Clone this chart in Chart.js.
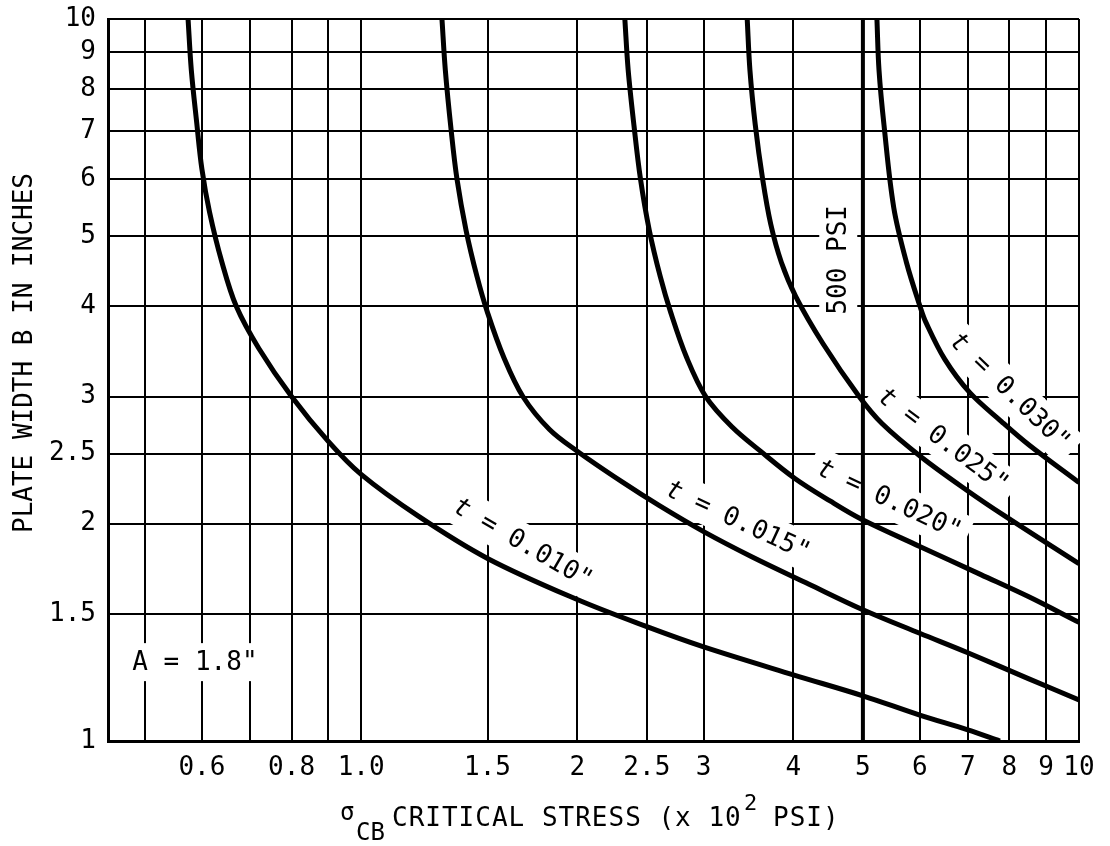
<!DOCTYPE html>
<html lang="en">
<head>
<meta charset="UTF-8">
<title>Plate width vs critical stress</title>
<script src="https://cdn.jsdelivr.net/npm/chart.js"></script>
<style>
  html, body { margin: 0; padding: 0; background: #fff; }
  .chart-box { width: 1110px; height: 846px; }
</style>
</head>
<body>
<div class="chart-box"><canvas id="chart" width="1110" height="846"></canvas></div>
<script>
// axis ticks
const xTicks = [0.5, 0.6, 0.7, 0.8, 0.9, 1.0, 1.5, 2, 2.5, 3, 4, 5, 6, 7, 8, 9, 10];
const xLabels = ['', '0.6', '', '0.8', '', '1.0', '1.5', '2', '2.5', '3', '4', '5', '6', '7', '8', '9', '10'];
const yTicks = [1, 1.5, 2, 2.5, 3, 4, 5, 6, 7, 8, 9, 10];
const yLabels = ['1', '1.5', '2', '2.5', '3', '4', '5', '6', '7', '8', '9', '10'];

// curves: critical stress (x 10^2 psi) vs plate width B (in)
const thickness = ['0.010', '0.015', '0.020', '0.025', '0.030'];
const stress010 = [0.574, 0.58, 0.59, 0.60, 0.615, 0.64, 0.67, 0.72, 0.80, 0.90, 1.0, 1.2, 1.5, 2.0, 2.5, 3.0, 4.0, 5.0, 6.0, 7.0, 7.76];
const width010  = [10, 8.5, 7.2, 6.2, 5.4, 4.6, 4.0, 3.5, 3.0, 2.6, 2.34, 2.05, 1.79, 1.57, 1.44, 1.35, 1.235, 1.155, 1.086, 1.036, 1.0];
const stress015 = [1.296, 1.31, 1.335, 1.36, 1.40, 1.45, 1.50, 1.58, 1.68, 1.83, 2.0, 2.31, 2.6, 3.0, 3.5, 4.2, 5.0, 6.0, 7.0, 8.5, 10];
const width015  = [10, 8.5, 7.0, 6.0, 5.1, 4.4, 3.92, 3.4, 3.0, 2.7, 2.52, 2.285, 2.12, 1.95, 1.80, 1.65, 1.52, 1.41, 1.325, 1.22, 1.14];
const stress020 = [2.33, 2.355, 2.40, 2.45, 2.52, 2.61, 2.70, 2.84, 3.02, 3.29, 3.6, 4.02, 4.5, 4.97, 6.0, 7.3, 8.5, 10];
const width020  = [10, 8.5, 7.1, 6.0, 5.1, 4.4, 3.92, 3.4, 3.0, 2.72, 2.52, 2.31, 2.15, 2.03, 1.86, 1.70, 1.585, 1.46];
const stress025 = [3.45, 3.48, 3.54, 3.625, 3.72, 3.85, 4.03, 4.40, 4.94, 5.32, 6.04, 7.0, 7.88, 10];
const width025  = [10, 8.5, 7.14, 6.0, 5.2, 4.6, 4.13, 3.55, 3.00, 2.75, 2.47, 2.22, 2.05, 1.76];
const stress030 = [5.23, 5.265, 5.35, 5.52, 5.75, 6.01, 6.12, 6.5, 7.04, 7.8, 8.52, 10];
const width030  = [10, 8.5, 7.13, 5.48, 4.6, 3.99, 3.80, 3.38, 3.04, 2.77, 2.57, 2.28];

// 500 psi limit line
const limitStress = [5, 5];
const limitWidth = [1, 10];

const FONT = '"DejaVu Sans Mono", "Liberation Mono", monospace';

function toPoints(xs, ys) {
  return xs.map((v, i) => ({ x: v, y: ys[i] }));
}

const curveSets = [
  [stress010, width010], [stress015, width015], [stress020, width020],
  [stress025, width025], [stress030, width030]
];

const datasets = curveSets.map(([xs, ys], i) => ({
  label: 't = ' + thickness[i] + '"',
  data: toPoints(xs, ys),
  borderColor: '#000',
  borderWidth: 5,
  pointRadius: 0,
  tension: 0.35,
  fill: false
}));
datasets.push({
  label: '500 PSI',
  data: toPoints(limitStress, limitWidth),
  borderColor: '#000',
  borderWidth: 4,
  pointRadius: 0,
  fill: false
});

// text placed on the plot (anchor in data units)
const notes = [
  { x: 1.68, y: 1.88, angle: 30, parts: [{ t: 't', it: true }, { t: ' = 0.010"' }] },
  { x: 3.35, y: 2.02, angle: 25, parts: [{ t: 't', it: true }, { t: ' = 0.015"' }] },
  { x: 5.44, y: 2.16, angle: 25, parts: [{ t: 't', it: true }, { t: ' = 0.020"' }] },
  { x: 6.47, y: 2.61, angle: 37, parts: [{ t: 't', it: true }, { t: ' = 0.025"' }] },
  { x: 8.01, y: 3.05, angle: 44, parts: [{ t: 't', it: true }, { t: ' = 0.030"' }] },
  { x: 4.62, y: 4.64, angle: -90, parts: [{ t: '500 PSI' }] },
  { x: 0.48, y: 1.286, angle: 0, align: 'left', parts: [{ t: 'A = 1.8"' }] }
];

function drawNote(ctx, cx, cy, note) {
  const size = 26;
  ctx.save();
  ctx.translate(cx, cy);
  ctx.rotate(note.angle * Math.PI / 180);
  let total = 0;
  const widths = note.parts.map(p => {
    ctx.font = (p.it ? 'italic ' : '') + size + 'px ' + FONT;
    const w = ctx.measureText(p.t).width;
    total += w;
    return w;
  });
  const x0 = note.align === 'left' ? 0 : -total / 2;
  ctx.fillStyle = '#fff';
  ctx.fillRect(x0 - 8, -19, total + 16, 38);
  ctx.fillStyle = '#000';
  ctx.textBaseline = 'middle';
  ctx.textAlign = 'left';
  let x = x0;
  note.parts.forEach((p, i) => {
    ctx.font = (p.it ? 'italic ' : '') + size + 'px ' + FONT;
    ctx.fillText(p.t, x, 1);
    x += widths[i];
  });
  ctx.restore();
}

const textPlugin = {
  id: 'plateText',
  beforeDatasetsDraw(chart) {
    const { ctx, scales } = chart;
    notes.forEach(n => {
      drawNote(ctx, scales.x.getPixelForValue(n.x), scales.y.getPixelForValue(n.y), n);
    });
  },
  afterDraw(chart) {
    const { ctx, chartArea } = chart;
    ctx.save();
    ctx.fillStyle = '#000';
    ctx.textAlign = 'left';
    ctx.textBaseline = 'alphabetic';

    // y title
    ctx.save();
    ctx.translate(24, 353);
    ctx.rotate(-Math.PI / 2);
    ctx.font = '26px ' + FONT;
    ctx.textAlign = 'center';
    ctx.textBaseline = 'middle';
    ctx.fillText('PLATE WIDTH B IN INCHES', 0, 1);
    ctx.restore();

    // x title with sub/superscripts
    const base = chartArea.bottom + 85;
    ctx.font = '24px ' + FONT;
    ctx.fillText('\u03C3', 340, base - 6);
    ctx.fillText('CB', 356, base + 14);
    ctx.font = '26px ' + FONT;
    ctx.letterSpacing = '1px';
    ctx.fillText('CRITICAL STRESS (x 10', 392, base);
    ctx.letterSpacing = '0px';
    ctx.font = '22px ' + FONT;
    ctx.fillText('2', 744, base - 16);
    ctx.font = '26px ' + FONT;
    ctx.letterSpacing = '1px';
    ctx.fillText('PSI)', 773, base);
    ctx.letterSpacing = '0px';
    ctx.restore();
  }
};

new Chart(document.getElementById('chart'), {
  type: 'line',
  data: { datasets },
  options: {
    responsive: false,
    animation: false,
    devicePixelRatio: 1,
    layout: { padding: { top: 19, right: 31, left: 0, bottom: 0 } },
    plugins: { legend: { display: false }, tooltip: { enabled: false } },
    scales: {
      x: {
        type: 'logarithmic',
        min: 0.444,
        max: 10,
        afterBuildTicks: s => { s.ticks = xTicks.map(v => ({ value: v })); },
        afterFit: s => { s.height = 105; s.paddingLeft = 0; s.paddingRight = 0; },
        grid: { color: '#000', lineWidth: 2, drawTicks: false },
        border: { color: '#000', width: 3 },
        ticks: {
          autoSkip: false, maxRotation: 0, minRotation: 0, padding: 12,
          color: '#000', font: { family: FONT, size: 26 },
          callback: (v, i) => xLabels[i]
        }
      },
      y: {
        type: 'logarithmic',
        min: 1,
        max: 10,
        afterBuildTicks: s => { s.ticks = yTicks.map(v => ({ value: v })); },
        afterFit: s => { s.width = 108; s.paddingTop = 0; s.paddingBottom = 0; },
        grid: { color: '#000', lineWidth: 2, drawTicks: false },
        border: { color: '#000', width: 3 },
        ticks: {
          autoSkip: false, padding: 12,
          color: '#000', font: { family: FONT, size: 26 },
          callback: (v, i) => yLabels[i]
        }
      }
    }
  },
  plugins: [textPlugin]
});
</script>
</body>
</html>
